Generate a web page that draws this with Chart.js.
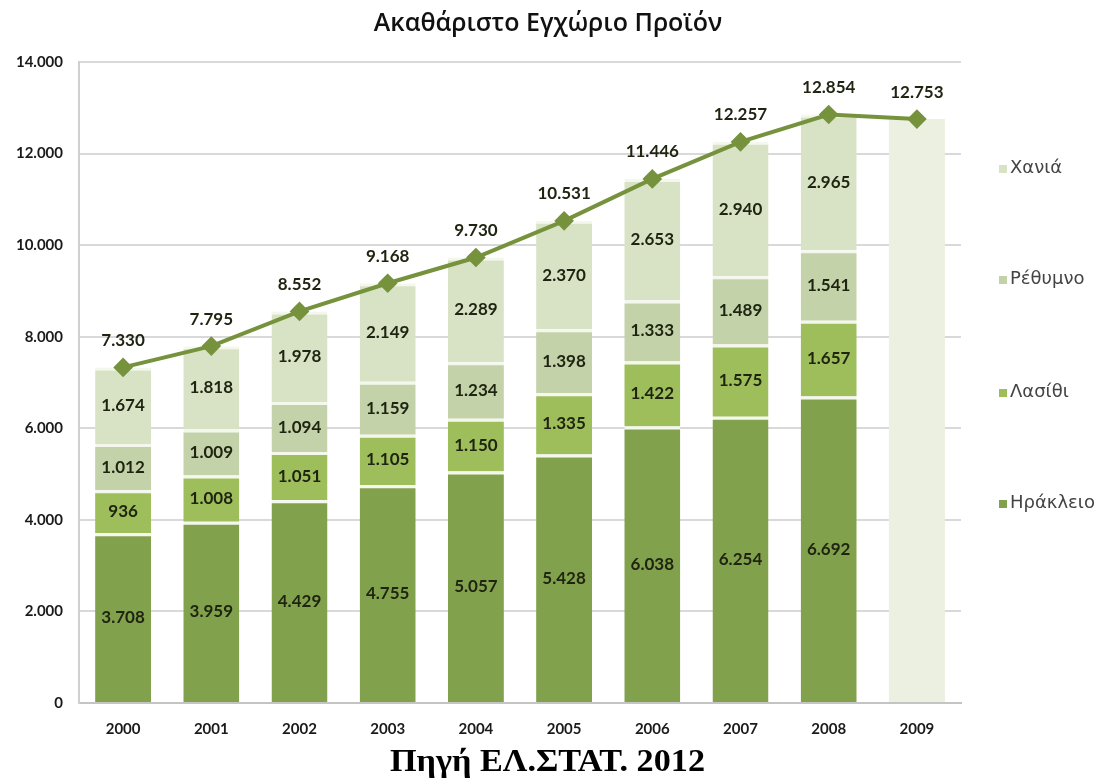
<!DOCTYPE html>
<html>
<head>
<meta charset="utf-8">
<script src="https://cdn.jsdelivr.net/npm/chart.js@4"></script>
<style>
  body { margin: 0; background: #fff; }
  #wrap { width: 1097px; height: 778px; }
</style>
</head>
<body>
<div id="wrap"><canvas id="gdp-chart" width="1097" height="778"></canvas></div>
<script>
// chart data (values in εκ. ευρώ)
const years = ['2000', '2001', '2002', '2003', '2004', '2005', '2006', '2007', '2008', '2009'];
const iraklio = [3708, 3959, 4429, 4755, 5057, 5428, 6038, 6254, 6692, null];
const lasithi = [936, 1008, 1051, 1105, 1150, 1335, 1422, 1575, 1657, null];
const rethymno = [1012, 1009, 1094, 1159, 1234, 1398, 1333, 1489, 1541, null];
const chania = [1674, 1818, 1978, 2149, 2289, 2370, 2653, 2940, 2965, null];
const total2009 = [null, null, null, null, null, null, null, null, null, 12753];
const totals = [7330, 7795, 8552, 9168, 9730, 10531, 11446, 12257, 12854, 12753];
const yTicks = [0, 2000, 4000, 6000, 8000, 10000, 12000, 14000];

const DARK_GREEN = '#82a14d';
const MID_GREEN = '#9ebd5b';
const GREY_GREEN = '#c3d2a9';
const PALE_GREEN = '#d8e3c6';
const PALEST_GREEN = '#ebf0e1';
const LINE_GREEN = '#76923c';

// greek style thousands separator: 12753 -> 12.753
function formatNumber(v) {
    return String(v).replace(/\B(?=(\d{3})+(?!\d))/g, '.');
}

/**
 * Draws values inside the bar segments and above the line points,
 * plus the title, the legend on the right and the source note below the chart
 */
const labelsPlugin = {
    id: 'labelsPlugin',
    afterDatasetsDraw(chart) {
        const ctx = chart.ctx;
        ctx.save();
        ctx.textAlign = 'center';
        ctx.textBaseline = 'middle';
        ctx.fillStyle = '#1e2410';
        ctx.font = 'bold 17px Lato';
        chart.data.datasets.forEach((ds, i) => {
            const meta = chart.getDatasetMeta(i);
            if (ds.noLabels) return;
            meta.data.forEach((el, j) => {
                const v = ds.data[j];
                if (v == null) return;
                if (ds.type === 'line') {
                    ctx.fillText(formatNumber(v), el.x, el.y - 27);
                } else {
                    ctx.fillText(formatNumber(v), el.x, (el.y + el.base) / 2);
                }
            });
        });

        // title
        ctx.fillStyle = '#111';
        ctx.font = '600 25px "Open Sans"';
        ctx.fillText('Ακαθάριστο Εγχώριο Προϊόν', 548, 24);

        // legend, top entry = last stacked series
        const legendItems = [
            { text: 'Χανιά', color: PALE_GREEN, y: 168 },
            { text: 'Ρέθυμνο', color: GREY_GREEN, y: 279 },
            { text: 'Λασίθι', color: MID_GREEN, y: 392 },
            { text: 'Ηράκλειο', color: DARK_GREEN, y: 503 }
        ];
        ctx.textAlign = 'left';
        ctx.font = '18px "DejaVu Sans"';
        legendItems.forEach(item => {
            ctx.fillStyle = item.color;
            ctx.fillRect(999, item.y - 3, 8, 8);
            ctx.fillStyle = '#444';
            ctx.fillText(item.text, 1010, item.y);
        });

        // source note, stretched to the width it has in the picture
        const note = 'Πηγή ΕΛ.ΣΤΑΤ. 2012';
        ctx.fillStyle = '#000';
        ctx.textAlign = 'left';
        ctx.textBaseline = 'alphabetic';
        ctx.font = 'bold 31px "Liberation Serif"';
        const w = ctx.measureText(note).width;
        const sx = 315 / w;
        ctx.translate(390, 771);
        ctx.scale(sx, 1);
        ctx.fillText(note, 0, 0);
        ctx.restore();
    }
};

const segmentBorder = { top: 3, bottom: 0, left: 0, right: 0 };

const chartElement = document.getElementById('gdp-chart').getContext('2d');
new Chart(chartElement, {
    data: {
        labels: years,
        datasets: [
            {
                type: 'line', label: 'Σύνολο', data: totals, stack: 'line', order: 0,
                borderColor: LINE_GREEN, backgroundColor: LINE_GREEN, borderWidth: 4,
                pointStyle: 'rectRot', pointRadius: 7, pointBackgroundColor: LINE_GREEN,
                pointBorderColor: LINE_GREEN, tension: 0
            },
            { type: 'bar', label: 'Ηράκλειο', data: iraklio, stack: 'bars', order: 1, backgroundColor: DARK_GREEN, borderColor: '#f4f8ec', borderWidth: segmentBorder, borderSkipped: false },
            { type: 'bar', label: 'Λασίθι', data: lasithi, stack: 'bars', order: 1, backgroundColor: MID_GREEN, borderColor: '#f4f8ec', borderWidth: segmentBorder, borderSkipped: false },
            { type: 'bar', label: 'Ρέθυμνο', data: rethymno, stack: 'bars', order: 1, backgroundColor: GREY_GREEN, borderColor: '#f4f8ec', borderWidth: segmentBorder, borderSkipped: false },
            { type: 'bar', label: 'Χανιά', data: chania, stack: 'bars', order: 1, backgroundColor: PALE_GREEN, borderColor: '#f4f8ec', borderWidth: segmentBorder, borderSkipped: false },
            { type: 'bar', label: '2009', data: total2009, stack: 'bars', order: 1, backgroundColor: PALEST_GREEN, borderWidth: 0, noLabels: true }
        ]
    },
    options: {
        responsive: false,
        animation: false,
        devicePixelRatio: 1,
        layout: { padding: { left: 8, right: 136, top: 62, bottom: 0 } },
        datasets: {
            bar: { categoryPercentage: 1, barPercentage: 0.635 }
        },
        plugins: {
            legend: { display: false },
            tooltip: { enabled: false },
            title: { display: false }
        },
        scales: {
            x: {
                stacked: true,
                afterFit: axis => { axis.height = 75; },
                grid: { display: false, drawTicks: false },
                border: { color: '#c4c4c4', width: 2 },
                ticks: { color: '#1a1a1a', font: { family: 'Lato', size: 15, weight: 'bold' }, padding: 17 }
            },
            y: {
                stacked: true,
                min: 0,
                max: 14000,
                afterFit: axis => { axis.width = 71; },
                afterBuildTicks: axis => { axis.ticks = yTicks.map(v => ({ value: v })); },
                grid: { color: '#d9d9d9', lineWidth: 2, drawTicks: false },
                border: { color: '#d0d0d0', width: 2 },
                ticks: {
                    color: '#1a1a1a', font: { family: 'Lato', size: 15, weight: 'bold' }, padding: 16,
                    callback: v => formatNumber(v)
                }
            }
        }
    },
    plugins: [labelsPlugin]
});
</script>
</body>
</html>
